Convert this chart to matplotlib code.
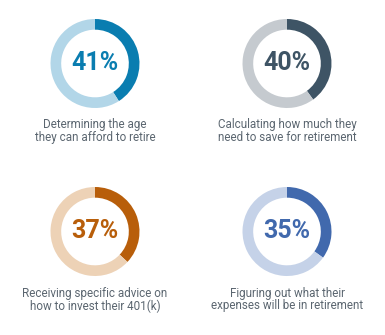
import matplotlib
matplotlib.use("Agg")
import matplotlib.pyplot as plt

# Share of respondents naming each retirement-planning topic
percents = [41, 40, 37, 35]
labels = [
    "Determining the age\nthey can afford to retire",
    "Calculating how much they\nneed to save for retirement",
    "Receiving specific advice on\nhow to invest their 401(k)",
    "Figuring out what their\nexpenses will be in retirement",
]
dark_colors = ["#0a7db0", "#3e5465", "#b85e0a", "#4169ad"]
light_colors = ["#b2d6e8", "#c5cacf", "#edd2b6", "#c5d2e8"]

W, H = 385, 335
DPI = 100
fig = plt.figure(figsize=(W / DPI, H / DPI), dpi=DPI)
fig.patch.set_facecolor("white")

# donut centres in pixels (from top-left) and ring radius
centers = [(95, 63.5), (287, 63.5), (95, 231.5), (287, 231.5)]
R = 44.5

for pct, lab, dc, lc, (cx, cy) in zip(percents, labels, dark_colors, light_colors, centers):
    left = (cx - R) / W
    bottom = 1 - (cy + R) / H
    ax = fig.add_axes([left, bottom, 2 * R / W, 2 * R / H])
    ax.pie([pct, 100 - pct], colors=[dc, lc], startangle=90, counterclock=False,
           radius=1, wedgeprops=dict(width=0.24, edgecolor="none"))
    ax.set_xlim(-1, 1)
    ax.set_ylim(-1, 1)
    ax.set_aspect("equal")
    ax.axis("off")
    ax.text(0, 0.02, f"{pct}%", ha="center", va="center", fontsize=18,
            fontweight="bold", color=dc, family="Roboto")
    fig.text(cx / W, 1 - (cy + 55) / H, lab, ha="center", va="top",
             fontsize=8.4, color="#5b6670", family="Roboto", linespacing=1.0)

fig.savefig("out.png", dpi=DPI, facecolor="white")
